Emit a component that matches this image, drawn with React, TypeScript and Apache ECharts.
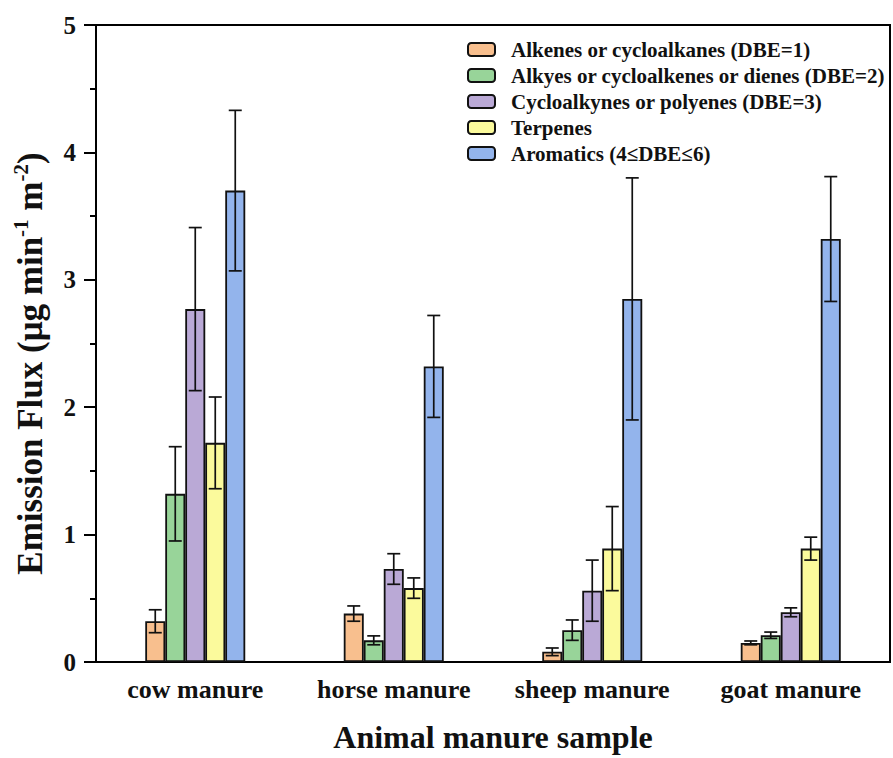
import React, { useEffect, useRef } from "react";
import * as echarts from "echarts";

const categories = ["cow manure", "horse manure", "sheep manure", "goat manure"];
const seriesNames = [
  "Alkenes or cycloalkanes (DBE=1)",
  "Alkyes or cycloalkenes or dienes (DBE=2)",
  "Cycloalkynes or polyenes (DBE=3)",
  "Terpenes",
  "Aromatics (4≤DBE≤6)",
];
const colors = ["#F8BF8E", "#98D499", "#BAA9D6", "#FBFA9C", "#93B4EC"];

const alkenes = [0.32, 0.38, 0.08, 0.15];
const alkyes = [1.32, 0.17, 0.25, 0.21];
const cycloalkynes = [2.77, 0.73, 0.56, 0.39];
const terpenes = [1.72, 0.58, 0.89, 0.89];
const aromatics = [3.7, 2.32, 2.85, 3.32];

const alkenesErr = [0.09, 0.06, 0.03, 0.015];
const alkyesErr = [0.37, 0.035, 0.08, 0.025];
const cycloalkynesErr = [0.64, 0.12, 0.24, 0.035];
const terpenesErr = [0.36, 0.08, 0.33, 0.09];
const aromaticsErr = [0.63, 0.4, 0.95, 0.49];

const values = [alkenes, alkyes, cycloalkynes, terpenes, aromatics];
const errors = [alkenesErr, alkyesErr, cycloalkynesErr, terpenesErr, aromaticsErr];

const FONT = "'Liberation Serif', 'Times New Roman', serif";
const BAR_W = 20;

export default function App() {
  const ref = useRef<HTMLDivElement>(null);
  useEffect(() => {
    if (!ref.current) return;
    const chart = echarts.init(ref.current, undefined, { renderer: "svg" });
    const n = seriesNames.length;
    const barSeries = seriesNames.map((name, i) => ({
      name,
      type: "bar",
      data: values[i],
      barWidth: BAR_W,
      barGap: "0%",
      itemStyle: { color: colors[i], borderColor: "#111", borderWidth: 1.8 },
      z: 2,
    }));
    const errSeries = seriesNames.map((name, i) => ({
      name: "err" + i,
      type: "custom",
      z: 3,
      encode: { x: 0, y: [1, 2] },
      data: values[i].map((v, k) => [k, v - errors[i][k], v + errors[i][k]]),
      renderItem: (params: any, api: any) => {
        const cat = api.value(0);
        const lo = api.coord([cat, api.value(1)]);
        const hi = api.coord([cat, api.value(2)]);
        const x = lo[0] + (i - (n - 1) / 2) * BAR_W;
        const hw = 6.5;
        const st = { stroke: "#111", lineWidth: 1.7 };
        return {
          type: "group",
          children: [
            { type: "line", shape: { x1: x, y1: hi[1], x2: x, y2: lo[1] }, style: st },
            { type: "line", shape: { x1: x - hw, y1: hi[1], x2: x + hw, y2: hi[1] }, style: st },
            { type: "line", shape: { x1: x - hw, y1: lo[1], x2: x + hw, y2: lo[1] }, style: st },
          ],
        };
      },
    }));
    chart.setOption({
      animation: false,
      backgroundColor: "#fff",
      grid: {
        left: 96,
        right: 3,
        top: 25,
        bottom: 92,
        show: true,
        borderColor: "#000",
        borderWidth: 2,
      },
      legend: {
        data: seriesNames,
        orient: "vertical",
        left: 462,
        top: 34,
        itemWidth: 27,
        itemHeight: 13,
        itemGap: 5,
        textStyle: {
          fontFamily: FONT,
          fontWeight: "bold",
          fontSize: 21,
          color: "#111",
          padding: [0, 0, 0, 11],
        },
      },
      xAxis: {
        type: "category",
        data: categories,
        axisLine: { lineStyle: { color: "#000", width: 2 } },
        axisTick: {
          alignWithLabel: true,
          interval: 0,
          length: 10,
          lineStyle: { color: "#000", width: 2 },
        },
        axisLabel: {
          interval: 0,
          hideOverlap: false,
          margin: 14,
          fontFamily: FONT,
          fontWeight: "bold",
          fontSize: 26,
          color: "#111",
        },
        name: "Animal manure sample",
        nameLocation: "middle",
        nameGap: 59,
        nameTextStyle: { fontFamily: FONT, fontWeight: "bold", fontSize: 32, color: "#111" },
      },
      yAxis: {
        type: "value",
        min: 0,
        max: 5,
        interval: 1,
        splitLine: { show: false },
        axisLine: { show: true, lineStyle: { color: "#000", width: 2 } },
        axisTick: { show: true, length: 12, lineStyle: { color: "#000", width: 2 } },
        minorTick: { show: true, splitNumber: 2, length: 6, lineStyle: { color: "#000", width: 2 } },
        axisLabel: {
          margin: 20,
          fontFamily: FONT,
          fontWeight: "bold",
          fontSize: 25,
          color: "#111",
        },
        name: "{t|Emission Flux (μg min}{s|-1}{t| m}{s|-2}{t|)}",
        nameLocation: "middle",
        nameRotate: 90,
        nameGap: 46,
        nameTextStyle: {
          padding: [0, 40, 0, 0],
          rich: {
            t: { fontFamily: FONT, fontWeight: "bold", fontSize: 35, color: "#111", lineHeight: 40 },
            s: { fontFamily: FONT, fontWeight: "bold", fontSize: 21, color: "#111", verticalAlign: "top", lineHeight: 40 },
          },
        },
      },
      series: [...barSeries, ...errSeries],
    });
    return () => chart.dispose();
  }, []);
  return (
    <div
      ref={ref}
      style={{ position: "fixed", left: 0, top: 0, width: 893, height: 758, background: "#fff" }}
    />
  );
}
